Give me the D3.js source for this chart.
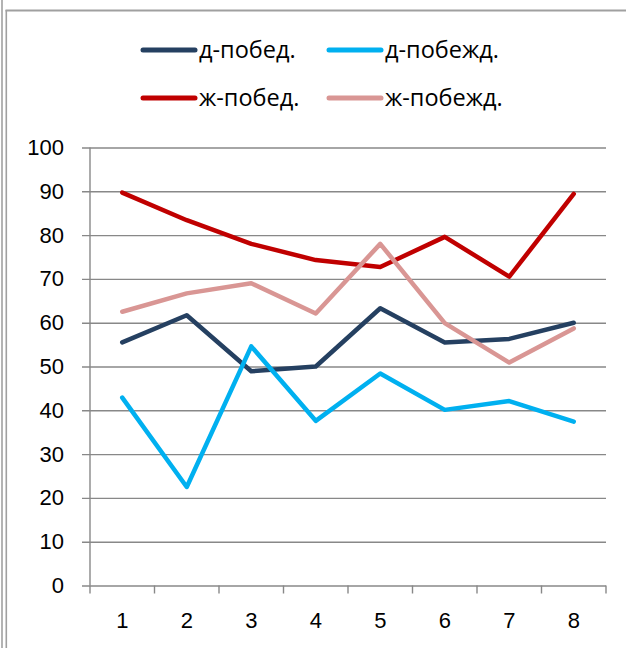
<!DOCTYPE html>
<html>
<head>
<meta charset="utf-8">
<script src="https://cdn.jsdelivr.net/npm/d3@7"></script>
<style>
  body { margin: 0; background: #fff; }
  svg { display: block; font-family: 'Open Sans', sans-serif; }
</style>
</head>
<body>
<div id="chart"></div>
<script>
const categories = ['1', '2', '3', '4', '5', '6', '7', '8'];
const yTicks = [0, 10, 20, 30, 40, 50, 60, 70, 80, 90, 100];

const seriesNames = ['д-побед.', 'д-побежд.', 'ж-побед.', 'ж-побежд.'];
const seriesColors = ['#254061', '#00B0F0', '#C00000', '#D99694'];

const dPobed = [55.5, 61.7, 48.9, 50, 63.3, 55.5, 56.3, 60];
const dPobezhd = [42.9, 22.5, 54.6, 37.6, 48.4, 40.1, 42.1, 37.4];
const zhPobed = [89.7, 83.4, 78, 74.3, 72.7, 79.6, 70.5, 89.4];
const zhPobezhd = [62.5, 66.7, 69, 62.1, 78, 59.9, 50.9, 58.7];

const seriesValues = [dPobed, dPobezhd, zhPobed, zhPobezhd];

const width = 626;
const height = 648;
const plot = { left: 90, right: 606, top: 147.5, bottom: 585.5 };

function drawChart() {
  const svg = d3
    .select('#chart')
    .append('svg')
    .attr('width', width)
    .attr('height', height);

  // frame (double line on the left, single on top)
  svg.append('line').attr('x1', 2).attr('x2', 2).attr('y1', 0).attr('y2', height)
    .attr('stroke', '#a0a0a0').attr('stroke-width', 1.6);
  svg.append('line').attr('x1', 6.3).attr('x2', 6.3).attr('y1', 10).attr('y2', height)
    .attr('stroke', '#a0a0a0').attr('stroke-width', 1.6);
  svg.append('line').attr('x1', 5.5).attr('x2', width).attr('y1', 10.5).attr('y2', 10.5)
    .attr('stroke', '#a0a0a0').attr('stroke-width', 1.8);

  const xScale = d3
    .scaleBand()
    .domain(categories)
    .range([plot.left, plot.right]);

  const yScale = d3
    .scaleLinear()
    .domain([0, 100])
    .range([plot.bottom, plot.top]);

  // gridlines + y labels
  const yAxis = d3
    .axisLeft(yScale)
    .tickValues(yTicks)
    .tickSize(-(plot.right - plot.left))
    .tickSizeOuter(0)
    .tickPadding(26);

  const gy = svg
    .append('g')
    .attr('transform', `translate(${plot.left}, 0)`)
    .call(yAxis);
  gy.select('.domain').remove();
  gy.selectAll('.tick line')
    .attr('x1', -8)
    .attr('stroke', '#888')
    .attr('stroke-width', 1.4);
  gy.selectAll('.tick text')
    .attr('fill', '#000')
    .style('font-size', '22px');

  // y axis line
  svg.append('line')
    .attr('x1', plot.left).attr('x2', plot.left)
    .attr('y1', plot.top).attr('y2', plot.bottom)
    .attr('stroke', '#888').attr('stroke-width', 1.4);

  // x axis
  const xAxis = d3.axisBottom(xScale).tickSize(0).tickPadding(27).tickSizeOuter(0);
  const gx = svg
    .append('g')
    .attr('transform', `translate(0, ${plot.bottom})`)
    .call(xAxis);
  gx.select('.domain').remove();
  gx.selectAll('.tick text')
    .attr('fill', '#000')
    .style('font-size', '22px');

  // category boundary ticks
  const bounds = categories.map((c) => xScale(c)).concat([plot.right]);
  svg.append('g')
    .selectAll('line')
    .data(bounds)
    .join('line')
    .attr('x1', (d) => d).attr('x2', (d) => d)
    .attr('y1', plot.bottom).attr('y2', plot.bottom + 8)
    .attr('stroke', '#888').attr('stroke-width', 1.4);

  // series lines
  const line = d3
    .line()
    .x((d, i) => xScale(categories[i]) + xScale.bandwidth() / 2)
    .y((d) => yScale(d));

  svg.append('g')
    .selectAll('path')
    .data(seriesValues)
    .join('path')
    .attr('d', line)
    .attr('fill', 'none')
    .attr('stroke', (d, i) => seriesColors[i])
    .attr('stroke-width', 4.5)
    .attr('stroke-linejoin', 'round')
    .attr('stroke-linecap', 'round');

  // legend (2x2)
  const legendPos = [
    { x: 143, y: 50 },
    { x: 329, y: 50 },
    { x: 143, y: 98 },
    { x: 329, y: 98 },
  ];
  const legend = svg.append('g')
    .selectAll('g')
    .data(seriesNames)
    .join('g')
    .attr('transform', (d, i) => `translate(${legendPos[i].x}, ${legendPos[i].y})`);

  legend.append('line')
    .attr('x1', 0).attr('x2', 52)
    .attr('stroke', (d, i) => seriesColors[i])
    .attr('stroke-width', 5)
    .attr('stroke-linecap', 'round');

  legend.append('text')
    .attr('x', 56)
    .attr('dy', '0.36em')
    .style('font-size', '23.5px')
    .text((d) => d);
}

drawChart();
</script>
</body>
</html>
